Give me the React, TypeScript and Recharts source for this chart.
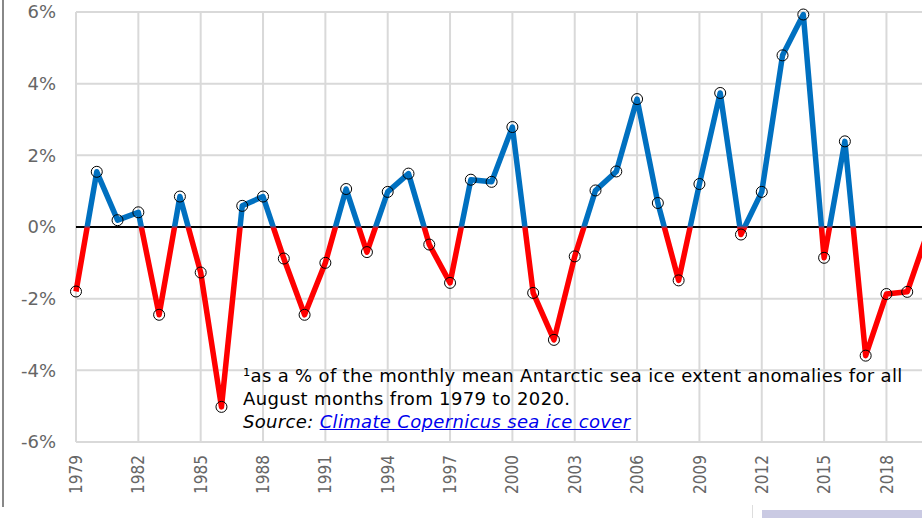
import { LineChart, Line, XAxis, YAxis, CartesianGrid, ReferenceLine } from 'recharts'

// August Antarctic sea ice extent anomaly, % of monthly mean (1979-2020)
const years = [
  1979, 1980, 1981, 1982, 1983, 1984, 1985, 1986, 1987, 1988,
  1989, 1990, 1991, 1992, 1993, 1994, 1995, 1996, 1997, 1998,
  1999, 2000, 2001, 2002, 2003, 2004, 2005, 2006, 2007, 2008,
  2009, 2010, 2011, 2012, 2013, 2014, 2015, 2016, 2017, 2018,
  2019, 2020,
]

const anomalies = [
  -1.8, 1.54, 0.19, 0.41, -2.45, 0.85, -1.27, -5.02, 0.59, 0.85,
  -0.88, -2.45, -1.0, 1.06, -0.7, 0.98, 1.49, -0.49, -1.56, 1.32,
  1.26, 2.79, -1.84, -3.15, -0.82, 1.02, 1.55, 3.57, 0.67, -1.49,
  1.2, 3.74, -0.21, 0.98, 4.79, 5.93, -0.86, 2.39, -3.59, -1.87,
  -1.81, -0.13,
]

const xTicks = [1979, 1982, 1985, 1988, 1991, 1994, 1997, 2000, 2003, 2006, 2009, 2012, 2015, 2018]
const yTicks = [-6, -4, -2, 0, 2, 4, 6]

const BLUE = '#0070C0'
const RED = '#FF0000'

const data = years.map((year, i) => ({ year, value: anomalies[i] }))

// where zero sits inside the line's bounding box, for the blue/red split
const dataMax = Math.max(...anomalies)
const dataMin = Math.min(...anomalies)
const zeroOffset = dataMax / (dataMax - dataMin)

const YearTick = ({ x, y, payload }: any) => (
  <text
    x={x}
    y={y}
    dy="0.36em"
    transform={`rotate(-90, ${x}, ${y})`}
    textAnchor="end"
    fill="#666"
    fontSize={17}
    fontFamily="'DejaVu Sans Condensed', 'DejaVu Sans', sans-serif"
    style={{ fontStretch: 'condensed' }}
  >
    {payload.value}
  </text>
)

export default function App() {
  return (
    <div
      style={{
        position: 'fixed',
        left: 0,
        top: 0,
        width: 922,
        height: 518,
        overflow: 'hidden',
        background: '#fff',
      }}
    >
      <div style={{ position: 'absolute', left: 2, top: 0, width: 2, height: 507, background: '#888' }} />
      <div style={{ position: 'absolute', left: 752, top: 505, width: 1, height: 13, background: '#ddd' }} />
      <div style={{ position: 'absolute', left: 762, top: 510, width: 160, height: 8, background: '#cacae3' }} />

      <LineChart
        width={940}
        height={518}
        data={data}
        margin={{ top: 12, right: 12, left: 0, bottom: 12 }}
      >
        <defs>
          <linearGradient id="aboveBelow" x1="0" y1="0" x2="0" y2="1">
            <stop offset={zeroOffset - 0.004} stopColor={BLUE} />
            <stop offset={zeroOffset + 0.004} stopColor={RED} />
          </linearGradient>
        </defs>
        <CartesianGrid stroke="#d9d9d9" strokeWidth={2} />
        <XAxis
          type="number"
          dataKey="year"
          domain={[1979, 2020]}
          ticks={xTicks}
          interval={0}
          axisLine={false}
          tickLine={false}
          tickSize={0}
          tickMargin={13}
          height={64}
          tick={<YearTick />}
        />
        <YAxis
          domain={[-6, 6]}
          ticks={yTicks}
          interval={0}
          width={76}
          axisLine={false}
          tickLine={false}
          tickSize={0}
          tickMargin={20}
          tickFormatter={(v: number) => `${v}%`}
          tick={{ fill: '#666', fontSize: 18, fontFamily: "'DejaVu Sans', sans-serif" }}
        />
        <ReferenceLine y={0} stroke="#000" strokeWidth={2} />
        <Line
          type="linear"
          dataKey="value"
          stroke="url(#aboveBelow)"
          strokeWidth={5.5}
          strokeLinejoin="round"
          dot={{ r: 5.5, stroke: '#000', strokeWidth: 1, fill: 'none' }}
          activeDot={false}
          isAnimationActive={false}
        />
      </LineChart>

      <div
        style={{
          position: 'absolute',
          left: 243,
          top: 364,
          fontFamily: "'DejaVu Sans', sans-serif",
          fontSize: 18,
          letterSpacing: '0.33px',
          lineHeight: '23px',
          color: '#000',
          whiteSpace: 'nowrap',
        }}
      >
        <div>¹as a % of the monthly mean Antarctic sea ice extent anomalies for all</div>
        <div>August months from 1979 to 2020.</div>
        <div style={{ fontStyle: 'italic' }}>
          Source:{' '}
          <a href="#" style={{ color: '#0000EE', textDecoration: 'underline' }}>
            Climate Copernicus sea ice cover
          </a>
        </div>
      </div>
    </div>
  )
}
